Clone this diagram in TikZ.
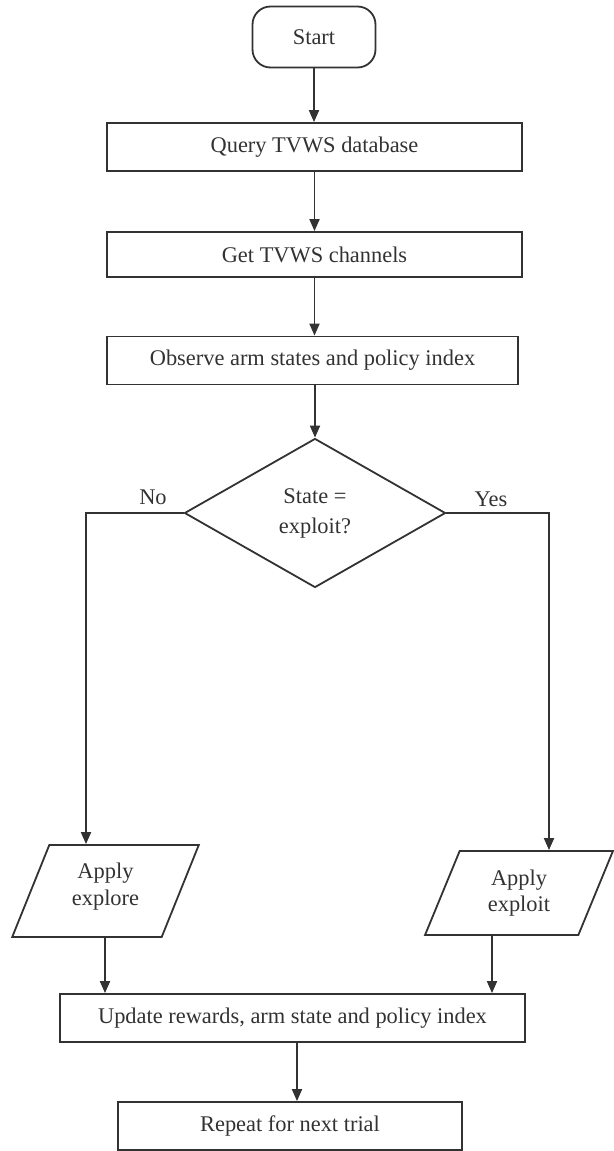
\documentclass[tikz,border=0pt]{standalone}
\usepackage{fontspec}
\setmainfont{Liberation Serif}
\usetikzlibrary{shapes.geometric,arrows.meta}
\definecolor{inkgray}{RGB}{50,50,50}

\begin{document}
\begin{tikzpicture}[x=0.5pt, y=-0.5pt,
    every node/.style={text=inkgray, font=\fontsize{11.2}{14}\selectfont},
    procbox/.style={draw=inkgray, line width=0.9pt, rectangle, minimum height=24pt, inner sep=0pt},
    iobox/.style={draw=inkgray, line width=0.9pt, trapezium, trapezium stretches=true,
      trapezium left angle=68.6, trapezium right angle=111.4, inner sep=0pt, align=center},
    arr/.style={draw=inkgray, line width=0.9pt, -{Triangle[length=6pt, width=5pt]}}]

  % Page frame (pixel grid of the reference)
  \useasboundingbox (0,0) rectangle (614,1151);

  % Terminal
  \node[draw=inkgray, line width=0.9pt, rounded corners=9pt, minimum width=61.5pt, minimum height=30.5pt] (start) at (314,37) {Start};

  % Process steps
  \node[procbox, minimum width=207.5pt] (query) at (314.5,147) {Query TVWS database};
  \node[procbox, minimum width=207.5pt, minimum height=22.5pt] (chan) at (314.5,254.5) {Get TVWS channels};
  \node[procbox, minimum width=205.5pt] (observe) at (312.5,360.5) {Observe arm states and policy index};

  % Decision
  \node[diamond, draw=inkgray, line width=0.9pt, minimum width=130.5pt, minimum height=74.5pt,
    inner sep=0pt, align=center, font=\fontsize{11.2}{15}\selectfont] (dec) at (315,513) {State =\\exploit?};

  % Branch labels
  \node (nolbl) at (153,497) {No};
  \node (yeslbl) at (491,499) {Yes};

  % Actions (text of the left one sits a bit high)
  \node[iobox, minimum width=93.5pt, minimum height=46pt, text depth=7pt, font=\fontsize{11.2}{13.5}\selectfont] (explore) at (105.5,891) {Apply\\explore};
  \node[iobox, minimum width=94pt, minimum height=42pt, font=\fontsize{11.2}{13}\selectfont] (exploit) at (519,893) {Apply\\exploit};

  % Update and repeat
  \node[procbox, minimum width=232.5pt] (update) at (292.5,1018) {Update rewards, arm state and policy index};
  \node[procbox, minimum width=172pt] (repeat) at (290,1126) {Repeat for next trial};

  % Corner points of the branches
  \coordinate (nocorner) at (86,513);
  \coordinate (yescorner) at (549,513);
  \coordinate (exploreout) at (105,0);
  \coordinate (exploitout) at (492,0);
  \coordinate (updateout) at (297,0);

  % Main flow
  \draw[arr] (start.south) -- (start.south |- query.north);
  \draw[arr] (query.south) -- (query.south |- chan.north);
  \draw[arr] (chan.south) -- (chan.south |- observe.north);
  \draw[arr] (observe.south -| dec.north) -- (dec.north);

  % Branches
  \draw[arr] (dec.west) -- (nocorner) -- (nocorner |- explore.north);
  \draw[arr] (dec.east) -- (yescorner) -- (yescorner |- exploit.north);
  \draw[arr] (exploreout |- explore.south) -- (exploreout |- update.north);
  \draw[arr] (exploitout |- exploit.south) -- (exploitout |- update.north);
  \draw[arr] (updateout |- update.south) -- (updateout |- repeat.north);

\end{tikzpicture}
\end{document}
